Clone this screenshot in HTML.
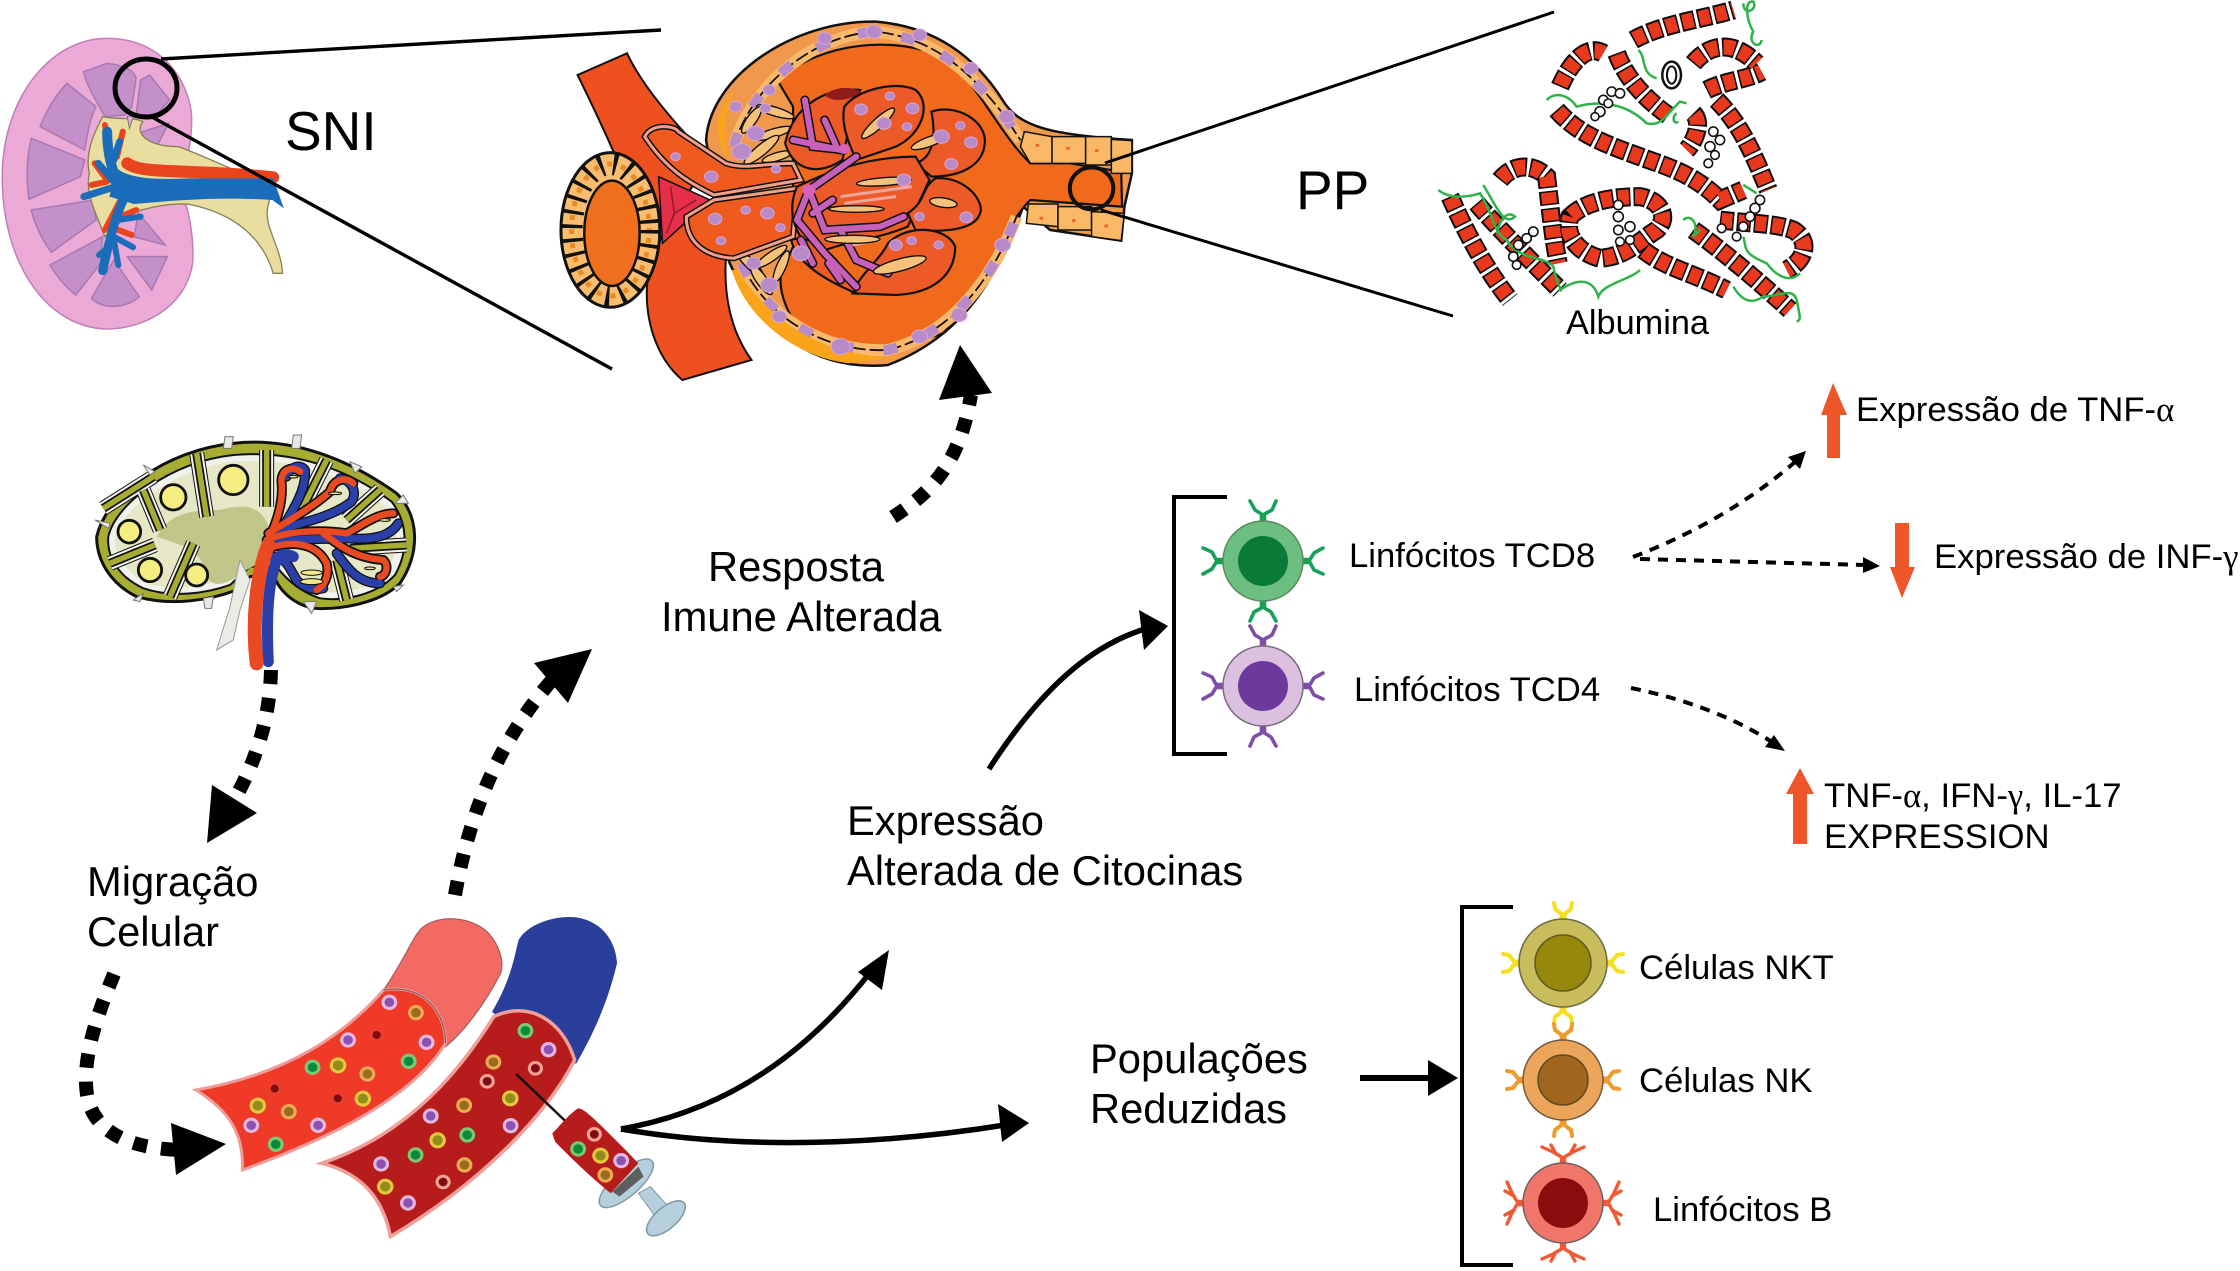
<!DOCTYPE html>
<html><head><meta charset="utf-8"><title>SNI</title>
<style>
html,body{margin:0;padding:0;background:#fff}
svg{display:block}
text{font-family:"Liberation Sans",sans-serif;fill:#000}
.g{font-family:"Liberation Serif",serif}
.n *{vector-effect:non-scaling-stroke}
.hk{fill:none;stroke:#0c0c0c;stroke-width:19;stroke-dasharray:14 3}
.hr{fill:none;stroke:#e8391e;stroke-width:15;stroke-dasharray:11 6;stroke-dashoffset:-1.5}
.gr{fill:none;stroke:#2fb34a;stroke-width:2.5}
.bd{fill:#fff;stroke:#111;stroke-width:1.6}
.da{fill:none;stroke:#000;stroke-width:14;stroke-dasharray:14 14}
.so{fill:none;stroke:#000;stroke-width:5.5}
.td{fill:none;stroke:#000;stroke-width:4;stroke-dasharray:10 8}
.p{fill:#b98ac8;stroke:#d7a6d8;stroke-width:1}
.t{fill:#f6c27a;stroke:#111;stroke-width:1.4}
.l{fill:#ec5a28;stroke:#111;stroke-width:2.2}
.tw{fill:none;stroke:#111;stroke-width:15;stroke-linejoin:round}
.tx{fill:none;stroke:#f4f4f0;stroke-width:13;stroke-linejoin:round}
.tra{fill:none;stroke:#111;stroke-width:9;stroke-linejoin:round}
.trb{fill:none;stroke:#a7ad33;stroke-width:5.5;stroke-linejoin:round}
.ko{fill:#c490c9;stroke:#a878b0;stroke-width:1.5}
</style></head>
<body>
<svg width="2240" height="1271" viewBox="0 0 2240 1271" xmlns="http://www.w3.org/2000/svg">
<defs>
<g id="y" fill="none" stroke="currentColor" stroke-width="3.6" stroke-linecap="round" stroke-linejoin="round">
<path d="M-1.5,0V-8L-8,-12L-13,-21M1.5,0V-8L9,-12L13,-21"/>
</g>
<g id="yb" fill="none" stroke="currentColor" stroke-width="3.4" stroke-linecap="round" stroke-linejoin="round">
<path d="M-1.5,0V-8L-10,-13L-21,-18M1.5,0V-8L10,-13L21,-18M-7,-11L-12,-20M7,-11L12,-20"/>
</g>
<g id="ys" fill="none" stroke="currentColor" stroke-width="4" stroke-linecap="round" stroke-linejoin="round">
<path d="M-1.5,0V-7L-8,-12L-9,-18M1.5,0V-7L8,-12L9,-18"/>
</g>
</defs>

<!-- kidney -->
<g class="n" transform="scale(.4464,.3333)">
<path d="M240,115C340,115 410,200 428,330C434,400 420,470 405,560C425,640 434,710 432,780C425,900 340,985 240,987C110,985 5,800 5,530C5,300 110,115 240,115Z" fill="#eba9d6" stroke="#bf7fb9" stroke-width="1.5"/>
<path class="ko" d="M187,215L240,190C275,195 300,210 305,235L295,320L280,345L235,350C215,300 195,260 187,215Z"/>
<path class="ko" d="M335,225L380,300L350,345L305,345L315,240Z"/>
<path class="ko" d="M378,370L340,468L305,430L320,395Z"/>
<path class="ko" d="M150,250L215,320C200,360 195,410 190,450L90,380C105,330 125,285 150,250Z"/>
<path class="ko" d="M70,415L190,480L180,530L65,598C58,530 60,470 70,415Z"/>
<path class="ko" d="M70,630L210,600L215,660L115,757C95,720 78,675 70,630Z"/>
<path class="ko" d="M230,710L225,790L170,885C145,860 128,830 112,795Z"/>
<path class="ko" d="M255,780L312,890C290,920 235,935 205,895Z"/>
<path class="ko" d="M285,770L375,770L340,870Z"/>
<path class="ko" d="M310,640L370,735L300,710Z"/>
<path d="M230,350C260,360 300,350 320,365C300,400 330,440 400,440C480,480 570,540 610,560L600,620C590,680 630,740 633,820L612,820C590,720 530,640 420,612C360,610 320,630 290,640L235,710C215,640 190,580 200,520C190,460 210,400 230,350Z" fill="#e9de9f" stroke="#857f55" stroke-width="1.3"/>
<path d="M285,350L300,345L290,385Z" fill="#eba9d6" stroke="#777" stroke-width="1"/>
<g fill="none" stroke-linecap="round">
<path d="M285,490C320,525 420,505 612,532" stroke="#e8451f" stroke-width="12"/>
<path d="M235,375L250,470M275,395L262,470M212,490L240,540M205,555L240,545M272,595L235,690M305,630L270,650M295,705L265,690M232,780L250,730" stroke="#e8451f" stroke-width="6"/>
<path d="M240,395C240,470 255,520 265,560" stroke="#1b6cb9" stroke-width="10"/>
<path d="M268,425L255,480M220,490L255,545M188,590L270,555" stroke="#1b6cb9" stroke-width="7"/>
<path d="M280,590C260,640 245,720 230,812" stroke="#1b6cb9" stroke-width="9"/>
<path d="M262,660L315,650M255,710L298,742M255,720L265,795M245,740L222,765" stroke="#1b6cb9" stroke-width="6"/>
</g>
<path d="M262,505C290,535 340,540 420,535C480,535 550,535 612,535L636,625L610,600C500,590 400,600 300,612L245,590Z" fill="#1b6cb9"/>
</g>
<path d="M161,59L661,30M152,117L612,369" fill="none" stroke="#000" stroke-width="3.4"/>
<ellipse cx="146" cy="88" rx="31" ry="29" fill="none" stroke="#000" stroke-width="5"/>

<!-- glomerulus -->
<g class="n" transform="translate(540,0) scale(.3954,.3333)">
<path d="M95,225L220,160C260,260 340,370 430,480L340,640L270,720C240,600 200,480 95,225Z" fill="#ee5020" stroke="#111" stroke-width="2"/>
<path d="M340,640L470,780C465,880 480,990 535,1080L360,1140C300,1080 270,980 270,880C270,800 300,720 340,640Z" fill="#ee5020" stroke="#111" stroke-width="2"/>
<!-- tubule left -->
<ellipse cx="178" cy="690" rx="125" ry="232" fill="#f9bd6f" stroke="#111" stroke-width="3"/>
<ellipse cx="178" cy="690" rx="98" ry="198" fill="none" stroke="#111" stroke-width="22" stroke-dasharray="3.5 10.6"/>
<ellipse cx="178" cy="690" rx="98" ry="198" fill="none" stroke="#ea8a26" stroke-width="5" stroke-dasharray="5 9.1" stroke-dashoffset="-8"/>
<ellipse cx="182" cy="700" rx="70" ry="158" fill="#f0701e" stroke="#111" stroke-width="2.5"/>
<!-- capsule -->
<path d="M420,420C430,230 640,60 850,65C1000,80 1100,170 1170,300C1210,380 1290,405 1497,420L1497,520L1478,620L1470,722L1290,690L1222,620C1165,800 1090,1000 880,1095C700,1115 560,1000 480,790C450,700 440,560 420,420Z" fill="#f0984c" stroke="#111" stroke-width="2.5"/>
<path d="M600,240C720,120 900,110 1020,170C1110,250 1160,400 1240,490L1340,490L1470,515L1472,620L1240,600C1170,680 1130,860 1020,1000C900,1050 760,1060 640,960C610,900 605,850 610,820L640,740L640,320Z" fill="#f16a1c" stroke="#111" stroke-width="2.2"/>
<path d="M490,440C530,270 680,105 850,95C1000,115 1090,220 1170,340L1215,420" fill="none" stroke="#f9b96c" stroke-width="12"/>
<path d="M490,440C530,270 680,105 850,95C1000,115 1090,220 1170,340L1215,420" fill="none" stroke="#111" stroke-width="1.8" stroke-dasharray="14 4"/>
<path d="M490,440C530,270 680,105 850,95C1000,115 1090,220 1170,340L1215,420" fill="none" stroke="#b78bc9" stroke-width="10" stroke-dasharray="14 30"/>
<path d="M510,790C570,950 720,1060 880,1050C1050,1000 1150,820 1205,650" fill="none" stroke="#f9b96c" stroke-width="12"/>
<path d="M510,790C570,950 720,1060 880,1050C1050,1000 1150,820 1205,650" fill="none" stroke="#111" stroke-width="1.8" stroke-dasharray="14 4"/>
<path d="M510,790C570,950 720,1060 880,1050C1050,1000 1150,820 1205,650" fill="none" stroke="#b78bc9" stroke-width="10" stroke-dasharray="14 30"/>
<path d="M485,810C520,950 640,1070 780,1090L920,1070C760,1080 600,1000 500,810Z" fill="#f9a51c"/>
<path d="M470,470C440,400 440,340 490,270C470,330 460,410 475,470Z" fill="#f9a51c"/>
<!-- epithelium cells -->
<g fill="#f9b866" stroke="#111" stroke-width="1.5">
<path d="M1225,395L1295,410V490H1240L1215,440Z"/><rect x="1295" y="410" width="85" height="80"/><rect x="1380" y="410" width="65" height="85"/><path d="M1445,418L1497,422V520H1445Z"/>
<path d="M1235,612H1310V680L1230,670Z"/><rect x="1310" y="620" width="85" height="70"/><path d="M1395,635L1478,640L1470,722L1395,710Z"/>
</g>
<g fill="#ec6a20"><circle cx="1258" cy="436" r="5"/><circle cx="1335" cy="445" r="5"/><circle cx="1408" cy="452" r="5"/><circle cx="1268" cy="655" r="5"/><circle cx="1350" cy="662" r="5"/><circle cx="1432" cy="678" r="5"/></g>
<!-- macula -->
<path d="M300,530L430,600L310,730Z" fill="#e6304a" stroke="#111" stroke-width="1.5"/>
<path d="M330,560L340,640L395,600M340,640L320,700" fill="none" stroke="#8e1a2a" stroke-width="1.5"/>
<!-- left band petals -->
<g class="t">
<ellipse cx="595" cy="335" rx="50" ry="13" transform="rotate(20 595 335)"/>
<ellipse cx="535" cy="360" rx="45" ry="13" transform="rotate(-60 535 360)"/>
<ellipse cx="590" cy="400" rx="50" ry="13" transform="rotate(-20 590 400)"/>
<ellipse cx="560" cy="450" rx="60" ry="15" transform="rotate(-45 560 450)"/>
<ellipse cx="600" cy="470" rx="40" ry="12" transform="rotate(-20 600 470)"/>
<ellipse cx="530" cy="790" rx="50" ry="13" transform="rotate(50 530 790)"/>
<ellipse cx="585" cy="770" rx="50" ry="13" transform="rotate(-40 585 770)"/>
<ellipse cx="560" cy="840" rx="50" ry="14" transform="rotate(60 560 840)"/>
<ellipse cx="610" cy="800" rx="50" ry="12" transform="rotate(-70 610 800)"/>
</g>
<!-- arterioles -->
<path d="M265,410C280,370 340,375 350,395L470,490C520,510 560,490 640,490L660,540L440,585C380,550 320,510 265,410Z" fill="#ef5a1f" stroke="#111" stroke-width="6"/>
<path d="M265,410C280,370 340,375 350,395L470,490C520,510 560,490 640,490L660,540L440,585C380,550 320,510 265,410Z" fill="none" stroke="#f3a08a" stroke-width="3"/>
<path d="M370,650L440,600L650,565L640,710L490,775C420,770 370,730 370,650Z" fill="#ef5a1f" stroke="#111" stroke-width="6"/>
<path d="M370,650L440,600L650,565L640,710L490,775C420,770 370,730 370,650Z" fill="none" stroke="#f3a08a" stroke-width="3"/>
<!-- tuft -->
<path class="l" d="M620,430C640,320 720,260 810,270C785,350 775,420 765,480C700,530 640,510 620,430Z" fill="#d8401e"/>
<path d="M720,285C750,255 800,260 815,280C780,300 740,310 720,285Z" fill="#8f1c18"/>
<path class="l" d="M770,320C800,270 900,240 950,270C990,310 970,400 900,440L800,480C780,430 760,370 770,320Z"/>
<path class="l" d="M990,335C1050,310 1130,360 1125,430C1120,500 1060,530 990,530L950,490C1000,470 1000,400 990,335Z"/>
<path class="l" d="M650,560C720,520 820,470 950,470L985,540L930,680C850,720 780,720 700,760C650,720 620,640 650,560Z" fill="#e84f26"/>
<path class="l" d="M930,640C980,600 960,570 1000,535C1070,530 1115,590 1115,630C1110,680 1050,700 950,690Z"/>
<path class="l" d="M880,730C930,670 1030,680 1050,740C1050,820 1000,880 900,885L790,880C810,820 860,780 880,730Z"/>
<path class="l" d="M635,720C680,700 760,760 800,880C720,840 650,790 635,720Z" fill="#d8401e"/>
<g fill="none" stroke="#111" stroke-width="9" stroke-linecap="round">
<path d="M670,300L690,440L770,450M640,420L760,450M680,570L800,470M680,570L650,660L720,760L800,860M680,570L720,690L860,680L920,650M760,690L800,780L880,820M690,640L740,600M720,360L750,440M660,720L690,790M730,790L760,840"/>
</g>
<g fill="none" stroke="#c561b9" stroke-width="6" stroke-linecap="round">
<path d="M670,300L690,440L770,450M640,420L760,450M680,570L800,470M680,570L650,660L720,760L800,860M680,570L720,690L860,680L920,650M760,690L800,780L880,820M690,640L740,600M720,360L750,440M660,720L690,790M730,790L760,840"/>
</g>
<circle cx="770" cy="447" r="15" fill="#d860b8"/><circle cx="680" cy="570" r="17" fill="#d860b8"/>
<g fill="none" stroke="#f0a59a" stroke-width="3"><path d="M760,590L940,560M770,610L900,590M790,735L860,720"/></g>
<ellipse class="t" cx="855" cy="370" rx="60" ry="14" transform="rotate(-48 855 370)"/>
<ellipse class="t" cx="985" cy="425" rx="50" ry="14" transform="rotate(-24 985 425)"/>
<ellipse class="t" cx="870" cy="545" rx="70" ry="12" transform="rotate(-5 870 545)"/>
<ellipse class="t" cx="800" cy="627" rx="70" ry="10"/>
<ellipse class="t" cx="1020" cy="608" rx="35" ry="14" transform="rotate(10 1020 608)"/>
<ellipse class="t" cx="910" cy="795" rx="70" ry="18" transform="rotate(-18 910 795)"/>
<ellipse class="t" cx="790" cy="718" rx="70" ry="12"/>
<g class="p">
<circle cx="343" cy="470" r="12"/><circle cx="433" cy="530" r="17"/><circle cx="597" cy="507" r="12"/><circle cx="443" cy="657" r="17"/><circle cx="520" cy="630" r="12"/><circle cx="575" cy="640" r="17"/><circle cx="608" cy="683" r="12"/><circle cx="458" cy="722" r="12"/>
<circle cx="885" cy="288" r="12"/><circle cx="812" cy="328" r="16"/><circle cx="942" cy="325" r="16"/><circle cx="928" cy="380" r="12"/><circle cx="1063" cy="377" r="12"/><circle cx="1090" cy="427" r="16"/><circle cx="1040" cy="492" r="16"/><circle cx="1078" cy="652" r="16"/><circle cx="960" cy="650" r="12"/><circle cx="900" cy="735" r="16"/><circle cx="940" cy="722" r="12"/><circle cx="1008" cy="735" r="12"/><circle cx="1015" cy="410" r="20"/><circle cx="660" cy="760" r="22"/><circle cx="510" cy="455" r="24"/><circle cx="545" cy="400" r="22"/><circle cx="495" cy="320" r="16"/><circle cx="580" cy="270" r="16"/><circle cx="570" cy="325" r="14"/><circle cx="580" cy="855" r="22"/><circle cx="540" cy="790" r="18"/><circle cx="870" cy="370" r="18"/><circle cx="920" cy="540" r="18"/><circle cx="605" cy="950" r="18"/><circle cx="760" cy="1040" r="24"/><circle cx="960" cy="1010" r="20"/><circle cx="1060" cy="945" r="20"/><circle cx="1170" cy="735" r="20"/><circle cx="1180" cy="350" r="20"/><circle cx="1090" cy="205" r="18"/><circle cx="960" cy="105" r="18"/><circle cx="845" cy="95" r="20"/><circle cx="720" cy="115" r="18"/>
</g>
<ellipse cx="1395" cy="565" rx="55" ry="63" fill="none" stroke="#111" stroke-width="4"/>
</g>
<path d="M1105,163L1554,12M1101,210L1453,316" fill="none" stroke="#000" stroke-width="3"/>

<!-- albumin -->
<g class="n" transform="translate(1400,0) scale(.3333)">
<g class="hk"><path d="M470,330C540,410 640,440 720,470C800,500 880,520 960,600L1030,570"/><path d="M480,260C510,190 560,130 610,160"/><path d="M650,160C680,240 740,300 810,350"/><path d="M700,120C790,70 900,60 1000,30"/><path d="M880,190C930,130 1000,120 1070,190"/><path d="M920,270C980,240 1040,240 1085,215"/><path d="M880,340C910,370 880,430 860,450"/><path d="M950,300C1020,370 1060,460 1105,570"/><path d="M150,590C190,680 250,800 330,900"/><path d="M230,610C290,680 390,780 480,870"/><path d="M300,540C340,490 400,490 440,530C450,620 460,720 475,790"/><path d="M510,650C560,600 650,590 720,590C780,600 810,650 770,690C720,720 680,770 600,775C540,760 490,710 510,650Z"/><path d="M730,750C790,800 880,820 980,870"/><path d="M880,690C950,740 1050,820 1170,930"/><path d="M960,660C1040,670 1130,670 1180,690C1230,720 1220,780 1160,810"/></g>
<g class="hr"><path d="M470,330C540,410 640,440 720,470C800,500 880,520 960,600L1030,570"/><path d="M480,260C510,190 560,130 610,160"/><path d="M650,160C680,240 740,300 810,350"/><path d="M700,120C790,70 900,60 1000,30"/><path d="M880,190C930,130 1000,120 1070,190"/><path d="M920,270C980,240 1040,240 1085,215"/><path d="M880,340C910,370 880,430 860,450"/><path d="M950,300C1020,370 1060,460 1105,570"/><path d="M150,590C190,680 250,800 330,900"/><path d="M230,610C290,680 390,780 480,870"/><path d="M300,540C340,490 400,490 440,530C450,620 460,720 475,790"/><path d="M510,650C560,600 650,590 720,590C780,600 810,650 770,690C720,720 680,770 600,775C540,760 490,710 510,650Z"/><path d="M730,750C790,800 880,820 980,870"/><path d="M880,690C950,740 1050,820 1170,930"/><path d="M960,660C1040,670 1130,670 1180,690C1230,720 1220,780 1160,810"/></g>
<ellipse cx="815" cy="225" rx="28" ry="40" fill="none" stroke="#111" stroke-width="2.5"/>
<ellipse cx="815" cy="225" rx="14" ry="26" fill="none" stroke="#111" stroke-width="2"/>
<g class="gr">
<path d="M715,150C740,170 720,220 770,235"/><path d="M440,300C470,270 510,290 530,320C600,300 680,310 740,370C790,380 800,340 840,305L860,310"/><path d="M830,340C815,350 820,375 835,365"/><path d="M1030,10C1030,50 1075,30 1060,5C1030,0 1040,60 1060,95C1040,130 1080,150 1085,120"/>
<path d="M115,570C150,600 210,590 240,580C280,640 280,700 320,720C350,780 440,770 460,800C470,850 490,880 480,870C540,830 580,840 595,890C610,850 690,840 720,810"/>
<path d="M250,555C290,620 310,680 345,650C320,630 300,660 290,700"/>
<path d="M850,660C870,640 900,670 880,710L900,690"/><path d="M1030,710C1040,750 1030,760 1100,790C1130,830 1170,850 1200,820"/>
<path d="M1000,860C1030,910 1060,910 1090,890C1130,890 1180,860 1190,900C1200,950 1205,960 1190,965"/><path d="M1030,555L1070,580"/>
</g>
<g class="bd">
<circle cx="610" cy="300" r="14"/><circle cx="635" cy="275" r="14"/><circle cx="660" cy="280" r="14"/><circle cx="600" cy="335" r="15"/><circle cx="585" cy="350" r="12"/><circle cx="625" cy="310" r="13"/>
<circle cx="940" cy="395" r="14"/><circle cx="960" cy="420" r="14"/><circle cx="930" cy="440" r="15"/><circle cx="945" cy="465" r="13"/><circle cx="925" cy="490" r="13"/>
<circle cx="1080" cy="600" r="14"/><circle cx="1065" cy="625" r="15"/><circle cx="1050" cy="650" r="14"/><circle cx="1030" cy="680" r="14"/><circle cx="1010" cy="710" r="13"/><circle cx="965" cy="685" r="13"/>
<circle cx="655" cy="615" r="14"/><circle cx="655" cy="650" r="15"/><circle cx="690" cy="680" r="15"/><circle cx="655" cy="690" r="14"/><circle cx="690" cy="720" r="13"/><circle cx="660" cy="725" r="13"/>
<circle cx="400" cy="695" r="14"/><circle cx="380" cy="715" r="14"/><circle cx="355" cy="735" r="14"/><circle cx="340" cy="770" r="14"/><circle cx="350" cy="795" r="13"/>
</g>
</g>

<!-- lymph node -->
<g class="n" transform="translate(60,420) scale(.3333)">
<path d="M110,350C140,220 320,90 520,70C700,50 870,120 1010,220C1080,290 1080,400 1020,490C960,550 840,570 760,565C690,550 650,500 640,460L570,470L530,510C450,540 340,560 230,530C150,490 110,420 110,350Z" fill="#a7ad33" stroke="#111" stroke-width="3"/>
<path d="M145,350C165,255 330,125 520,105C700,90 860,145 995,245C1045,310 1045,395 1005,465C950,525 850,545 780,535C720,515 680,480 650,440L570,440L510,495C440,520 340,535 250,505C175,470 140,410 145,350Z" fill="#f2f2ec" stroke="#111" stroke-width="2"/>
<path d="M165,350C185,270 340,145 520,125C700,110 850,165 975,260C1020,315 1020,385 985,450C940,505 850,525 785,515C725,495 690,465 660,430L570,420L500,475C430,500 340,515 260,490C195,455 160,400 165,350Z" fill="#e6e7c6"/>
<path d="M290,350C330,270 420,270 480,270C560,250 620,250 640,370C630,430 560,440 530,470C480,505 440,500 430,440C420,390 350,370 290,350Z" fill="#c0c588"/>
<g class="tw"><path d="M410,100L440,290"/><path d="M620,90L620,260"/><path d="M130,265L280,170M250,210L300,330"/><path d="M150,430L285,375"/><path d="M330,530L400,370"/><path d="M730,260L800,120"/><path d="M860,300L960,210"/><path d="M870,385L1040,375"/><path d="M830,420L860,540"/></g>
<g class="tx"><path d="M410,100L440,290"/><path d="M620,90L620,260"/><path d="M130,265L280,170M250,210L300,330"/><path d="M150,430L285,375"/><path d="M330,530L400,370"/><path d="M730,260L800,120"/><path d="M860,300L960,210"/><path d="M870,385L1040,375"/><path d="M830,420L860,540"/></g>
<g class="tra"><path d="M410,100L440,290"/><path d="M620,90L620,260"/><path d="M130,265L280,170M250,210L300,330"/><path d="M150,430L285,375"/><path d="M330,530L400,370"/><path d="M730,260L800,120"/><path d="M860,300L960,210"/><path d="M870,385L1040,375"/><path d="M830,420L860,540"/></g>
<g class="trb"><path d="M410,100L440,290"/><path d="M620,90L620,260"/><path d="M130,265L280,170M250,210L300,330"/><path d="M150,430L285,375"/><path d="M330,530L400,370"/><path d="M730,260L800,120"/><path d="M860,300L960,210"/><path d="M870,385L1040,375"/><path d="M830,420L860,540"/></g>
<g fill="#f4ee82" stroke="#111" stroke-width="2.8">
<circle cx="520" cy="180" r="44"/><circle cx="340" cy="232" r="38"/><circle cx="208" cy="335" r="34"/><circle cx="270" cy="450" r="35"/><circle cx="410" cy="465" r="33"/>
</g>
<path d="M540,420L570,480L540,570L520,660L470,690L510,560L525,490Z" fill="#ebebe6" stroke="#999" stroke-width="1"/>
<g fill="#e8e8e8" stroke="#777" stroke-width="1"><path d="M495,50L520,50L515,85L490,85Z"/><path d="M700,45L725,45L720,85L695,85Z"/><path d="M870,125L905,140L885,160Z"/><path d="M1030,225L1045,250L1005,250Z"/><path d="M105,300L150,310L145,325Z"/><path d="M250,135L285,155L270,165Z"/><path d="M220,540L250,520L240,545Z"/><path d="M430,535L460,530L455,565L435,565Z"/><path d="M730,545L770,545L755,580Z"/><path d="M1000,500L1030,495L1010,515Z"/></g>
<g fill="none" stroke-linecap="round" stroke-linejoin="round">
<g stroke="#111" stroke-width="10">
<path d="M640,370C700,270 740,210 735,150C720,130 690,140 680,170"/>
<path d="M650,330C720,310 820,290 875,245C895,210 870,180 840,175"/>
<path d="M650,370C720,350 800,360 860,355C940,360 990,350 1015,310"/>
<path d="M640,410C680,410 690,450 710,480C740,510 770,510 790,505"/>
<path d="M830,400C860,440 890,490 960,490"/>
<path d="M620,370C650,310 670,250 665,190C660,150 695,135 720,155"/>
<path d="M625,340C690,300 760,260 810,215C820,175 860,170 880,190"/>
<path d="M620,360C690,330 790,330 860,340C900,320 950,280 1000,280"/>
<path d="M790,340C840,380 890,415 970,420C990,440 975,470 960,470"/>
<path d="M625,385C700,360 770,370 800,430C810,470 790,500 770,510"/>
</g>
<g stroke="#2a3fa8" stroke-width="7.5">
<path d="M640,370C700,270 740,210 735,150C720,130 690,140 680,170"/>
<path d="M650,330C720,310 820,290 875,245C895,210 870,180 840,175"/>
<path d="M650,370C720,350 800,360 860,355C940,360 990,350 1015,310"/>
<path d="M640,410C680,410 690,450 710,480C740,510 770,510 790,505"/>
<path d="M830,400C860,440 890,490 960,490"/>
</g>
<g stroke="#ea4a21" stroke-width="6.5">
<path d="M620,370C650,310 670,250 665,190C660,150 695,135 720,155"/>
<path d="M625,340C690,300 760,260 810,215C820,175 860,170 880,190"/>
<path d="M620,360C690,330 790,330 860,340C900,320 950,280 1000,280"/>
<path d="M790,340C840,380 890,415 970,420C990,440 975,470 960,470"/>
<path d="M625,385C700,360 770,370 800,430C810,470 790,500 770,510"/>
</g>
<path d="M625,725C620,620 620,500 650,420C660,400 680,400 700,410" stroke="#2a3fa8" stroke-width="11"/>
<path d="M590,730C575,600 590,460 625,375" stroke="#ea4a21" stroke-width="14"/>
</g>
<g fill="#f3e98b" stroke="#111" stroke-width="1"><ellipse cx="755" cy="458" rx="32" ry="8"/><ellipse cx="755" cy="485" rx="34" ry="9"/><ellipse cx="825" cy="220" rx="20" ry="4"/><ellipse cx="700" cy="170" rx="14" ry="4"/><ellipse cx="975" cy="300" rx="16" ry="4"/><ellipse cx="930" cy="445" rx="16" ry="4"/></g>
</g>

<!-- vessels -->
<g class="n" transform="translate(170,900) scale(.3444,.3333)">
<path d="M620,270C680,180 700,120 730,85C780,40 880,50 925,100C960,140 970,190 960,220C920,300 860,390 800,440Z" fill="#f26a62" stroke="#a06060" stroke-width="1.2"/>
<path d="M75,570C350,520 510,400 620,270C740,250 800,340 800,430C700,600 450,720 210,810C215,700 170,630 75,570Z" fill="#ef3a28" stroke="#ee9c9a" stroke-width="3"/>
<path d="M620,270C740,250 800,340 800,430" fill="none" stroke="#8a5a55" stroke-width="1.2"/>
<path d="M935,335C990,240 1000,170 1012,120C1040,70 1120,45 1180,52C1260,65 1295,130 1298,190C1270,310 1230,400 1180,490L1100,500Z" fill="#2a3e9c"/>
<path d="M440,790C700,700 850,500 940,350C1040,300 1140,360 1175,480C1090,650 900,850 640,1010C620,900 560,820 440,790Z" fill="#b71c1c" stroke="#f0a09a" stroke-width="3.5"/>
<path d="M1005,522L1160,675" stroke="#111" stroke-width="2.5"/>
<ellipse cx="1325" cy="850" rx="100" ry="38" transform="rotate(-42 1325 850)" fill="#b5d0dc" stroke="#7f9aa5" stroke-width="1.5"/>
<path d="M1360,880L1395,860L1460,935L1420,965Z" fill="#b5d0dc" stroke="#7f9aa5" stroke-width="1"/>
<ellipse cx="1440" cy="955" rx="70" ry="32" transform="rotate(-42 1440 955)" fill="#b5d0dc" stroke="#7f9aa5" stroke-width="1.5"/>
<path d="M1110,700C1130,680 1160,640 1185,625C1200,625 1220,640 1360,790L1280,880C1220,830 1160,770 1118,725Z" fill="#b71c1c"/>
<path d="M1285,875L1360,800L1375,830L1305,890Z" fill="#5e5e60"/>
<g fill="#e4b8e2"><circle cx="637" cy="307" r="23"/><circle cx="517" cy="420" r="23"/><circle cx="745" cy="427" r="23"/><circle cx="236" cy="676" r="23"/><circle cx="430" cy="676" r="23"/><circle cx="1099" cy="449" r="23"/><circle cx="757" cy="648" r="23"/><circle cx="989" cy="677" r="23"/><circle cx="613" cy="792" r="23"/><circle cx="691" cy="909" r="23"/><circle cx="1310" cy="782" r="23"/></g>
<g fill="#8d52b0"><circle cx="637" cy="307" r="14"/><circle cx="517" cy="420" r="14"/><circle cx="745" cy="427" r="14"/><circle cx="236" cy="676" r="14"/><circle cx="430" cy="676" r="14"/><circle cx="1099" cy="449" r="14"/><circle cx="757" cy="648" r="14"/><circle cx="989" cy="677" r="14"/><circle cx="613" cy="792" r="14"/><circle cx="691" cy="909" r="14"/><circle cx="1310" cy="782" r="14"/></g>
<g fill="#7cc873"><circle cx="414" cy="502" r="23"/><circle cx="693" cy="484" r="23"/><circle cx="307" cy="733" r="23"/><circle cx="1032" cy="392" r="23"/><circle cx="863" cy="705" r="23"/><circle cx="713" cy="765" r="23"/><circle cx="1185" cy="747" r="23"/></g>
<g fill="#0a8a3a"><circle cx="414" cy="502" r="14"/><circle cx="693" cy="484" r="14"/><circle cx="307" cy="733" r="14"/><circle cx="1032" cy="392" r="14"/><circle cx="863" cy="705" r="14"/><circle cx="713" cy="765" r="14"/><circle cx="1185" cy="747" r="14"/></g>
<g fill="#e6c83e"><circle cx="488" cy="496" r="24"/><circle cx="560" cy="596" r="24"/><circle cx="255" cy="617" r="24"/><circle cx="988" cy="595" r="24"/><circle cx="777" cy="721" r="24"/><circle cx="625" cy="860" r="24"/><circle cx="1250" cy="767" r="24"/></g>
<g fill="#918c1c"><circle cx="488" cy="496" r="15"/><circle cx="560" cy="596" r="15"/><circle cx="255" cy="617" r="15"/><circle cx="988" cy="595" r="15"/><circle cx="777" cy="721" r="15"/><circle cx="625" cy="860" r="15"/><circle cx="1250" cy="767" r="15"/></g>
<g fill="#eeaa52"><circle cx="714" cy="338" r="23"/><circle cx="573" cy="522" r="23"/><circle cx="345" cy="635" r="23"/><circle cx="939" cy="486" r="23"/><circle cx="854" cy="616" r="23"/><circle cx="855" cy="795" r="23"/><circle cx="1264" cy="825" r="23"/></g>
<g fill="#9a6a1e"><circle cx="714" cy="338" r="14"/><circle cx="573" cy="522" r="14"/><circle cx="345" cy="635" r="14"/><circle cx="939" cy="486" r="14"/><circle cx="854" cy="616" r="14"/><circle cx="855" cy="795" r="14"/><circle cx="1264" cy="825" r="14"/></g>
<g fill="#f5a294"><circle cx="1061" cy="505" r="22"/><circle cx="921" cy="544" r="22"/><circle cx="793" cy="846" r="22"/><circle cx="1232" cy="703" r="22"/></g>
<g fill="#e84030"><circle cx="600" cy="405" r="19"/><circle cx="304" cy="566" r="19"/><circle cx="487" cy="595" r="19"/></g>
<g fill="#7f0c0e"><circle cx="600" cy="405" r="12"/><circle cx="304" cy="566" r="12"/><circle cx="487" cy="595" r="12"/><circle cx="1061" cy="505" r="13"/><circle cx="921" cy="544" r="13"/><circle cx="793" cy="846" r="13"/><circle cx="1232" cy="703" r="13"/></g>
</g>

<!-- thick dashed arrows -->
<path class="da" d="M271,670C270,715 258,755 238,793"/>
<path d="M212,785L257,813L207,843Z" fill="#000"/>
<path class="da" d="M114,974C95,1020 82,1060 87,1095C93,1130 125,1148 180,1150"/>
<path d="M171,1123L226,1144L176,1175Z" fill="#000"/>
<path class="da" d="M455,895C470,810 500,740 552,680"/>
<path d="M534,663L592,649L568,703Z" fill="#000"/>
<path class="da" d="M893,517C935,490 960,460 971,395"/>
<path d="M939,400L960,345L992,393Z" fill="#000"/>

<!-- solid arrows -->
<path class="so" d="M989,769C1040,690 1090,645 1148,628"/>
<path d="M1139,610L1168,626L1144,650Z" fill="#000"/>
<path class="so" d="M621,1129C730,1110 810,1050 872,970"/>
<path d="M858,972L889,950L882,990Z" fill="#000"/>
<path class="so" d="M621,1129C740,1150 880,1145 1005,1125"/>
<path d="M998,1104L1029,1123L1002,1142Z" fill="#000"/>
<path d="M1360,1078H1432" stroke="#000" stroke-width="6" fill="none"/>
<path d="M1428,1060L1458,1078L1428,1096Z" fill="#000"/>

<!-- thin dashed arrows -->
<path class="td" d="M1633,557C1690,535 1745,505 1795,462"/>
<path d="M1788,457L1806,451L1800,469Z" fill="#000"/>
<path class="td" d="M1640,559L1866,565"/>
<path d="M1863,557L1880,566L1863,573Z" fill="#000"/>
<path class="td" d="M1631,688C1680,698 1730,715 1772,742"/>
<path d="M1774,735L1785,751L1765,747Z" fill="#000"/>

<!-- orange arrows -->
<g fill="#ee5528">
<path d="M1827,458V415H1821L1833,383L1847,415H1840V458Z"/>
<path d="M1895,523V567H1890L1902,598L1915,567H1909V523Z"/>
<path d="M1793,844V794H1786L1800,768L1814,794H1807V844Z"/>
</g>

<!-- brackets -->
<path d="M1227,497H1174V754H1227" fill="none" stroke="#000" stroke-width="4"/>
<path d="M1513,907H1462V1265H1513" fill="none" stroke="#000" stroke-width="4"/>

<!-- cells -->
<g transform="translate(1263,561)" color="#17a05a">
<use href="#y" transform="rotate(0) translate(0,-39)"/><use href="#y" transform="rotate(90) translate(0,-39)"/><use href="#y" transform="rotate(180) translate(0,-39)"/><use href="#y" transform="rotate(270) translate(0,-39)"/>
<circle r="40" fill="#6cbf80" stroke="#5a8a60" stroke-width="1.5"/><circle r="25" fill="#0a7a38"/>
</g>
<g transform="translate(1263,686)" color="#7e4ea8">
<use href="#y" transform="rotate(0) translate(0,-39)"/><use href="#y" transform="rotate(90) translate(0,-39)"/><use href="#y" transform="rotate(180) translate(0,-39)"/><use href="#y" transform="rotate(270) translate(0,-39)"/>
<circle r="40" fill="#dcc0e0" stroke="#7a6a80" stroke-width="1.5"/><circle r="25" fill="#6b3a9c"/>
</g>
<g transform="translate(1563,963)" color="#f4e020">
<use href="#ys" transform="rotate(0) translate(0,-42)"/><use href="#ys" transform="rotate(90) translate(0,-42)"/><use href="#ys" transform="rotate(180) translate(0,-42)"/><use href="#ys" transform="rotate(270) translate(0,-42)"/>
<circle r="44" fill="#c8bc5c" stroke="#6a6a40" stroke-width="1.5"/><circle r="28" fill="#96880c" stroke="#5f5a20" stroke-width="1.5"/>
</g>
<g transform="translate(1563,1080)" color="#f09a2e">
<use href="#ys" transform="rotate(0) translate(0,-38)"/><use href="#ys" transform="rotate(90) translate(0,-38)"/><use href="#ys" transform="rotate(180) translate(0,-38)"/><use href="#ys" transform="rotate(270) translate(0,-38)"/>
<circle r="40" fill="#eda55c" stroke="#705a40" stroke-width="1.5"/><circle r="25" fill="#a0651e" stroke="#5f4a20" stroke-width="1.5"/>
</g>
<g transform="translate(1563,1203)" color="#ef5a35">
<use href="#yb" transform="rotate(0) translate(0,-38)"/><use href="#yb" transform="rotate(90) translate(0,-38)"/><use href="#yb" transform="rotate(180) translate(0,-38)"/><use href="#yb" transform="rotate(270) translate(0,-38)"/>
<circle r="40" fill="#f0766a" stroke="#706060" stroke-width="1.5"/><circle r="25" fill="#8a0c0c"/>
</g>

<!-- labels -->
<text x="285" y="150" font-size="55">SNI</text>
<text x="1296" y="209" font-size="55">PP</text>
<text x="1566" y="334" font-size="34.3">Albumina</text>
<text x="1856" y="421" font-size="34.7">Expressão de TNF-<tspan class="g">α</tspan></text>
<text x="1934" y="568" font-size="34.7">Expressão de INF-<tspan class="g">γ</tspan></text>
<text x="1349" y="567" font-size="34.7">Linfócitos TCD8</text>
<text x="1354" y="701" font-size="34.7">Linfócitos TCD4</text>
<text x="708" y="581" font-size="41.7">Resposta</text>
<text x="661" y="631" font-size="41.7">Imune Alterada</text>
<text x="87" y="896" font-size="41.7">Migração</text>
<text x="87" y="946" font-size="41.7">Celular</text>
<text x="847" y="835" font-size="41.7">Expressão</text>
<text x="847" y="885" font-size="41.7">Alterada de Citocinas</text>
<text x="1090" y="1073" font-size="41.7">Populações</text>
<text x="1090" y="1123" font-size="41.7">Reduzidas</text>
<text x="1824" y="807" font-size="34.7">TNF-<tspan class="g">α</tspan>, IFN-<tspan class="g">γ</tspan>, IL-17</text>
<text x="1824" y="848" font-size="34.7">EXPRESSION</text>
<text x="1639" y="979" font-size="34.7">Células NKT</text>
<text x="1639" y="1092" font-size="34.7">Células NK</text>
<text x="1653" y="1221" font-size="34.7">Linfócitos B</text>
</svg>
</body></html>
